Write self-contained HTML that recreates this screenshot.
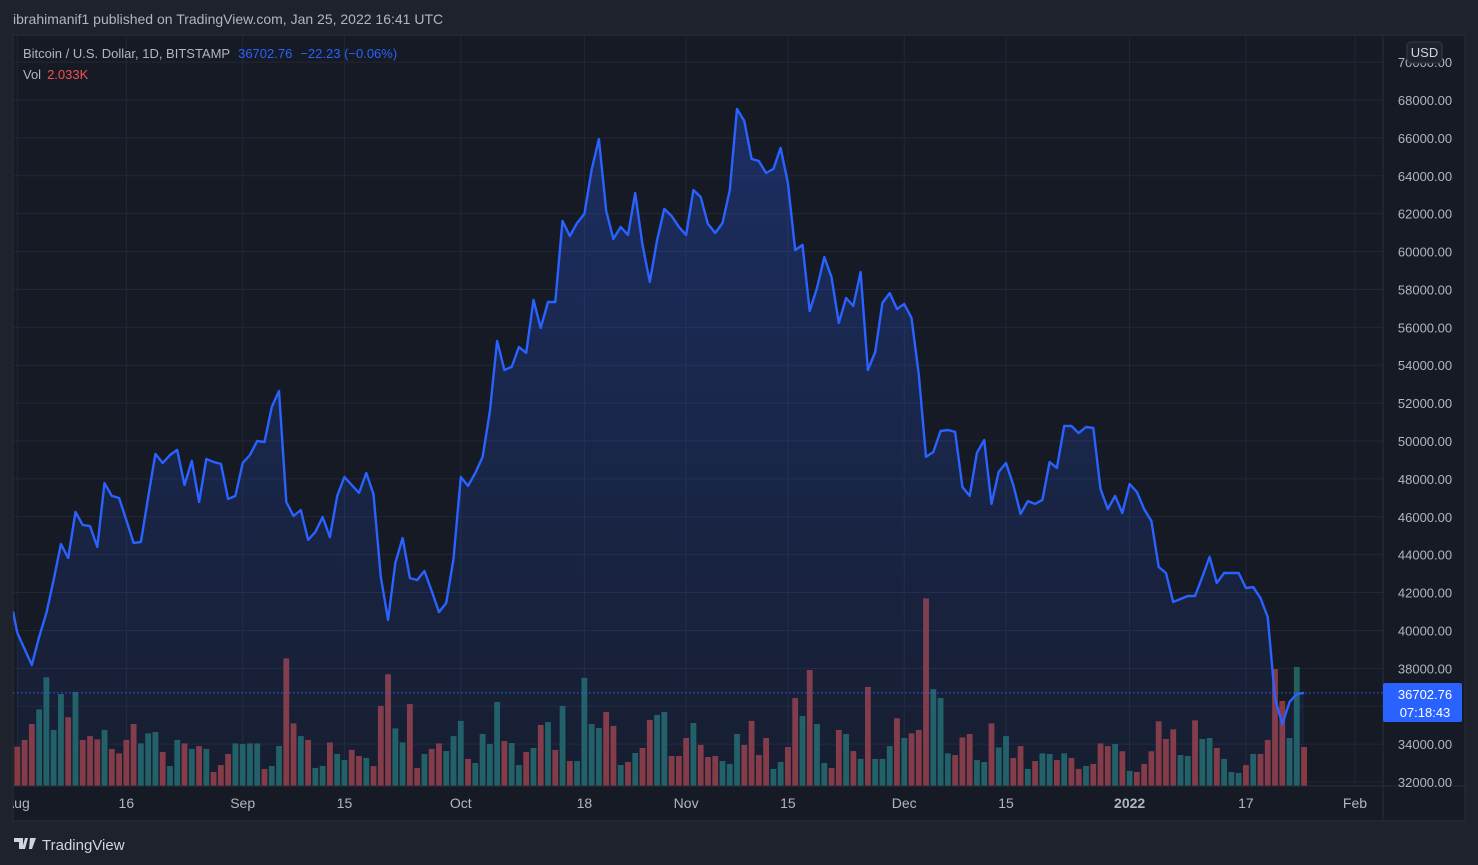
<!DOCTYPE html>
<html><head><meta charset="utf-8">
<style>
html,body{margin:0;padding:0;background:#1e222d;width:1478px;height:865px;overflow:hidden;font-family:"Liberation Sans",sans-serif}
svg{position:absolute;left:0;top:0}
</style></head>
<body>
<svg id="chart" width="1478" height="865" xmlns="http://www.w3.org/2000/svg">
<defs>
<linearGradient id="areaGrad" x1="0" y1="0" x2="0" y2="1">
<stop offset="0" stop-color="#2962ff" stop-opacity="0.28"/>
<stop offset="1" stop-color="#2962ff" stop-opacity="0.05"/>
</linearGradient>
<clipPath id="paneClip"><rect x="13" y="35" width="1370" height="751"/></clipPath>
<clipPath id="paneClip2"><rect x="13" y="786" width="1370" height="34"/></clipPath>
</defs>
<rect x="13" y="35" width="1452" height="786" fill="#161a25" stroke="#2a2e39"/>
<g id="grid"></g>
<g id="vol" clip-path="url(#paneClip)"></g>
<g id="price" clip-path="url(#paneClip)"></g>
<line x1="1383" y1="35" x2="1383" y2="820" stroke="#2a2e39"/>
<line x1="13" y1="786" x2="1465" y2="786" stroke="#2a2e39"/>
<g id="yaxis"></g>
<g id="xaxis"></g>
<text x="13" y="24" fill="#b2b5be" font-size="14">ibrahimanif1 published on TradingView.com, Jan 25, 2022 16:41 UTC</text>
<text x="23" y="58" font-size="13"><tspan fill="#b2b5be">Bitcoin / U.S. Dollar, 1D, BITSTAMP</tspan><tspan fill="#2962ff" dx="8">36702.76</tspan><tspan fill="#2962ff" dx="8">−22.23 (−0.06%)</tspan></text>
<text x="23" y="79" font-size="13"><tspan fill="#b2b5be">Vol</tspan><tspan fill="#ef5350" dx="6">2.033K</tspan></text>
<g><rect x="1407" y="42" width="35" height="21" rx="4" fill="#1e222d" stroke="#363a45"/><text x="1424.5" y="57" text-anchor="middle" fill="#d1d4dc" font-size="13">USD</text></g>
<g><rect x="1383" y="683" width="79" height="39" rx="2" fill="#2962ff"/>
<text x="1425" y="699" text-anchor="middle" fill="#fff" font-size="13">36702.76</text>
<text x="1425" y="717" text-anchor="middle" fill="#fff" font-size="13">07:18:43</text></g>
<g><path d="M14 838h9v11h-4v-7h-5z M25 838h3l-3 11h-3z M30 838h6l-4 11h-3z" fill="#d1d4dc"/><text x="42" y="850" fill="#d1d4dc" font-size="15">TradingView</text></g>
</svg>
<script>
const closes=[39870,39020,38180,39650,40920,42660,44560,43830,46250,45570,45510,44410,47780,47100,46990,45830,44620,44670,47050,49320,48840,49260,49530,47680,48950,46780,49050,48890,48790,46940,47100,48840,49260,50000,49950,51800,52640,46780,46040,46360,44780,45200,45990,44930,47100,48100,47680,47260,48310,47200,42820,40550,43560,44880,42770,42660,43140,42080,40970,41450,43770,48100,47630,48310,49160,51530,55280,53750,53910,54960,54650,57450,55970,57340,57340,61620,60820,61510,61990,64310,65940,62140,60670,61300,60880,63090,60350,58400,60610,62250,61880,61300,60880,63250,62880,61460,60980,61510,63250,67530,66890,64890,64780,64150,64360,65470,63620,60080,60350,56860,58080,59710,58660,56230,57550,57130,58920,53750,54700,57290,57810,56970,57230,56500,53500,49160,49420,50530,50580,50480,47570,47100,49370,50050,46680,48370,48840,47680,46150,46830,46680,46890,48890,48580,50790,50790,50420,50740,50690,47470,46410,47100,46200,47730,47310,46410,45780,43350,43030,41500,41660,41820,41820,42820,43880,42510,43030,43030,43030,42240,42290,41710,40710,36430,35060,36220,36650,36703];
const volumes=[2.05,2.40,3.23,3.99,5.66,2.92,4.79,3.58,4.90,2.40,2.60,2.43,2.92,1.93,1.70,2.40,3.23,2.22,2.74,2.81,1.77,1.04,2.40,2.22,1.93,2.08,1.93,0.73,1.09,1.67,2.22,2.19,2.22,2.22,0.89,1.04,2.08,6.65,3.26,2.60,2.40,0.94,1.04,2.27,1.67,1.35,1.88,1.56,1.46,1.04,4.17,5.82,3.00,2.27,4.27,0.94,1.67,1.93,2.22,1.82,2.60,3.39,1.41,
1.20,2.71,2.19,4.38,2.34,2.24,1.09,1.77,1.98,3.18,3.33,1.88,4.17,1.30,1.30,5.63,3.23,3.02,3.85,3.13,1.09,1.25,1.72,1.98,3.44,3.70,3.85,1.56,1.56,2.50,3.28,2.14,1.51,1.56,1.30,1.15,2.71,2.14,3.39,1.61,2.50,0.89,1.25,2.03,4.58,3.65,6.04,3.23,1.20,0.94,2.92,2.71,1.82,1.41,5.16,1.41,1.41,2.08,
3.53,2.50,2.74,2.92,9.77,5.05,4.58,1.70,1.61,2.53,2.71,1.35,1.25,3.26,2.01,2.60,1.46,2.08,0.89,1.30,1.70,1.67,1.35,1.70,1.46,0.89,1.04,1.15,2.22,2.08,2.19,1.81,0.78,0.73,1.15,1.81,3.37,2.45,2.95,1.61,1.56,3.42,2.45,2.50,1.98,1.41,0.73,0.68,1.09,1.67,1.67,2.40,6.09,4.43,2.50,6.20,2.03];
const volUp=[0,0,0,1,1,1,1,0,1,0,0,0,1,0,0,0,0,1,1,1,0,1,1,0,1,0,1,0,0,0,1,1,1,1,0,1,1,0,0,1,0,1,1,0,1,1,0,0,1,0,0,0,1,1,0,0,1,0,0,1,1,1,0,
1,1,1,1,0,1,1,0,1,0,1,0,1,0,1,1,1,1,0,0,1,0,1,0,0,1,1,0,0,0,1,0,0,0,1,1,1,0,0,0,0,1,1,0,0,1,0,1,1,0,0,1,0,1,0,1,1,1,0,1,
0,0,0,1,1,1,0,0,0,1,1,0,1,1,0,0,1,0,1,1,0,1,0,0,1,0,0,0,1,0,1,0,0,0,0,0,0,1,1,0,1,1,0,1,1,1,0,1,0,0,0,0,1,1,0];
const priceTicks=[32000,34000,36000,38000,40000,42000,44000,46000,48000,50000,52000,54000,56000,58000,60000,62000,64000,66000,68000,70000];
const timeLabels=["Aug","16","Sep","15","Oct","18","Nov","15","Dec","15","2022","17","Feb"];
const timeDays=[0,15,31,45,61,78,92,106,122,136,153,169,184];
const lastPrice=36702.76;

const NS="http://www.w3.org/2000/svg";
const X=d=>17.3+d*7.27;
const Y=v=>782-(v-32000)*0.018944;
const VY=v=>786-v*19.2;
function mk(tag,attrs,parent){const e=document.createElementNS(NS,tag);for(const k in attrs)e.setAttribute(k,attrs[k]);parent.appendChild(e);return e;}
const grid=document.getElementById('grid'),vol=document.getElementById('vol'),price=document.getElementById('price'),yax=document.getElementById('yaxis'),xax=document.getElementById('xaxis');

priceTicks.forEach(t=>{
  const y=Y(t);
  const l=mk('line',{x1:13,x2:1383,y1:y,y2:y,stroke:'#232734'},grid);
  
  
  const tx=mk('text',{x:1425,y:y+5,'text-anchor':'middle',fill:'#b2b5be','font-size':13},yax);
  tx.textContent=t.toFixed(2);
  
  
});
timeLabels.forEach((lab,i)=>{
  const x=X(timeDays[i]);
  const l=mk('line',{x1:x,x2:x,y1:35,y2:786,stroke:'#232734'},grid);
  
  
  const tx=mk('text',{x:x,y:808,'text-anchor':'middle',fill:'#b2b5be','font-size':14,'font-weight':lab==='2022'?'bold':'normal','clip-path':'url(#paneClip2)'},xax);
  tx.textContent=lab;
  
  
});

volumes.forEach((v,i)=>{
  const r=mk('rect',{x:X(i)-2.9,y:VY(v),width:5.8,height:786-VY(v),fill:volUp[i]?'#22615f':'#8a3a3e'},vol);
  
  
});

let d='';closes.forEach((c,i)=>{d+=(i?'L':'M')+X(i).toFixed(1)+','+Y(c).toFixed(1);});
const area=mk('path',{d:d+'L'+X(closes.length-1)+',786L'+X(0)+',786Z',fill:'url(#areaGrad)'},price);


const pre=mk('line',{x1:13,y1:Y(41000),x2:X(0),y2:Y(closes[0]),stroke:'#2962ff','stroke-width':2.4},price);


const line=mk('path',{d:d,fill:'none',stroke:'#2962ff','stroke-width':2.4,'stroke-linejoin':'round'},price);


const pl=mk('line',{x1:13,x2:1383,y1:Y(lastPrice),y2:Y(lastPrice),stroke:'#2962ff','stroke-width':1,'stroke-dasharray':'1.5 2.5'},price);


</script>
</body></html>
